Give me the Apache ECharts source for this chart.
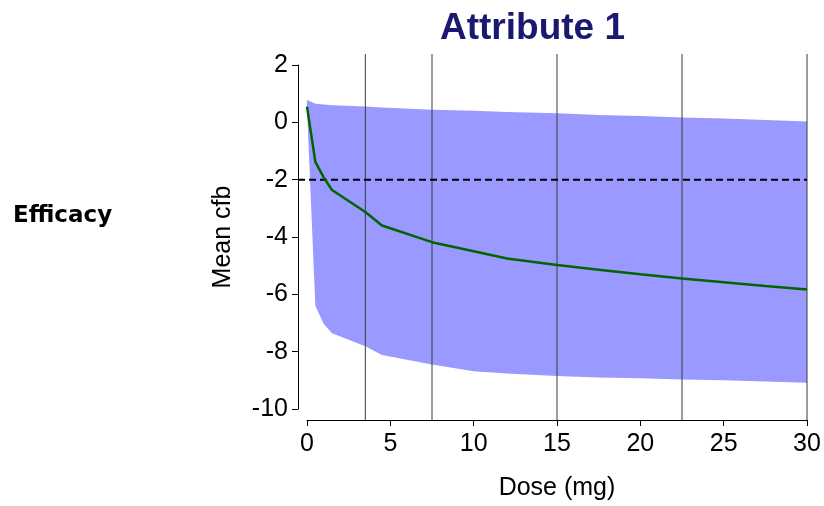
<!DOCTYPE html>
<html>
<head>
<meta charset="utf-8">
<script src="https://cdn.jsdelivr.net/npm/echarts@6/dist/echarts.min.js"></script>
<style>
html, body { margin: 0; padding: 0; background: #fff; }
#main { width: 824px; height: 506px; }
</style>
</head>
<body>
<div id="main"></div>
<script>
// dose grid and model summaries
var doses = [0, 0.5, 1, 1.5, 3.5, 4.5, 7.5, 10, 12, 15, 17.5, 20, 22.5, 25, 27.5, 30];
var meanCfb = [0.55, -1.38, -1.92, -2.36, -3.13, -3.6, -4.18, -4.5, -4.75, -4.98, -5.14, -5.3, -5.45, -5.58, -5.71, -5.83];
var upperBound = [0.78, 0.65, 0.62, 0.6, 0.55, 0.52, 0.44, 0.4, 0.36, 0.32, 0.26, 0.22, 0.17, 0.13, 0.08, 0.03];
var lowerBound = [0.5, -6.4, -7.03, -7.36, -7.81, -8.12, -8.45, -8.68, -8.76, -8.85, -8.9, -8.93, -8.97, -9.0, -9.04, -9.08];
var refDoses = [3.5, 7.5, 15, 22.5, 30];
var threshold = -2;
var xTicks = [0, 30, 5];
var yTicks = [-10, 2, 2];

var font = 'Liberation Sans, Arial, sans-serif';

function pairs(ys) {
    return doses.map(function (d, i) { return [d, ys[i]]; });
}

var myChart = echarts.init(document.getElementById('main'));
var option = {
    animation: false,
    title: {
        text: 'Attribute 1',
        left: 435,
        top: 5,
        textStyle: { fontFamily: font, fontSize: 37, fontWeight: 'bold', color: '#191970' }
    },
    graphic: [{
        type: 'text',
        left: 13,
        top: 205,
        style: { text: 'Efficacy', font: 'bold 23px "DejaVu Sans", sans-serif', fill: '#000' }
    }],
    grid: { left: 307, right: 17, top: 65, bottom: 93, containLabel: false },
    xAxis: {
        type: 'value',
        min: xTicks[0], max: xTicks[1], interval: xTicks[2],
        offset: 11,
        name: 'Dose (mg)',
        nameLocation: 'middle',
        nameGap: 56,
        nameTextStyle: { fontFamily: font, fontSize: 25, color: '#000' },
        axisLine: { onZero: false, lineStyle: { color: '#000', width: 1 } },
        axisTick: { length: 6, lineStyle: { color: '#000' } },
        axisLabel: { fontFamily: font, fontSize: 25, color: '#000', margin: 12 },
        splitLine: { show: false }
    },
    yAxis: {
        type: 'value',
        min: yTicks[0], max: yTicks[1], interval: yTicks[2],
        offset: 9,
        name: 'Mean cfb',
        nameLocation: 'middle',
        nameGap: 62,
        nameTextStyle: { fontFamily: font, fontSize: 25, color: '#000' },
        axisLine: { show: true, onZero: false, lineStyle: { color: '#000', width: 1 } },
        axisTick: { show: true, length: 6, lineStyle: { color: '#000' } },
        axisLabel: { fontFamily: font, fontSize: 25, color: '#000', margin: 10 },
        splitLine: { show: false }
    },
    series: [{
        // interval band: upper edge left to right, lower edge back
        type: 'custom',
        data: [[0]],
        renderItem: function (params, api) {
            var pts = [];
            var i;
            for (i = 0; i < doses.length; i++) {
                pts.push(api.coord([doses[i], upperBound[i]]));
            }
            for (i = doses.length - 1; i >= 0; i--) {
                pts.push(api.coord([doses[i], lowerBound[i]]));
            }
            return {
                type: 'polygon',
                shape: { points: pts },
                style: { fill: '#9999ff' }
            };
        },
        z: 1
    }, {
        type: 'custom',
        clip: false,
        data: refDoses.map(function (d) { return [d]; }),
        renderItem: function (params, api) {
            var top = api.coord([api.value(0), yTicks[1]]);
            var bottom = api.coord([api.value(0), yTicks[0]]);
            return {
                type: 'line',
                shape: { x1: top[0], y1: top[1] - 11, x2: bottom[0], y2: bottom[1] + 11 },
                style: { stroke: '#3a3a3a', lineWidth: 1 }
            };
        },
        z: 2
    }, {
        type: 'custom',
        clip: false,
        data: [[xTicks[0], threshold, xTicks[1]]],
        renderItem: function (params, api) {
            var a = api.coord([api.value(0), api.value(1)]);
            var b = api.coord([api.value(2), api.value(1)]);
            return {
                type: 'line',
                shape: { x1: a[0] - 9, y1: a[1], x2: b[0], y2: b[1] },
                style: { stroke: '#000', lineWidth: 2, lineDash: [7, 4] }
            };
        },
        z: 3
    }, {
        type: 'line',
        data: pairs(meanCfb),
        symbol: 'none',
        lineStyle: { color: '#006400', width: 2.5 },
        z: 4
    }]
};
myChart.setOption(option);
</script>
</body>
</html>
